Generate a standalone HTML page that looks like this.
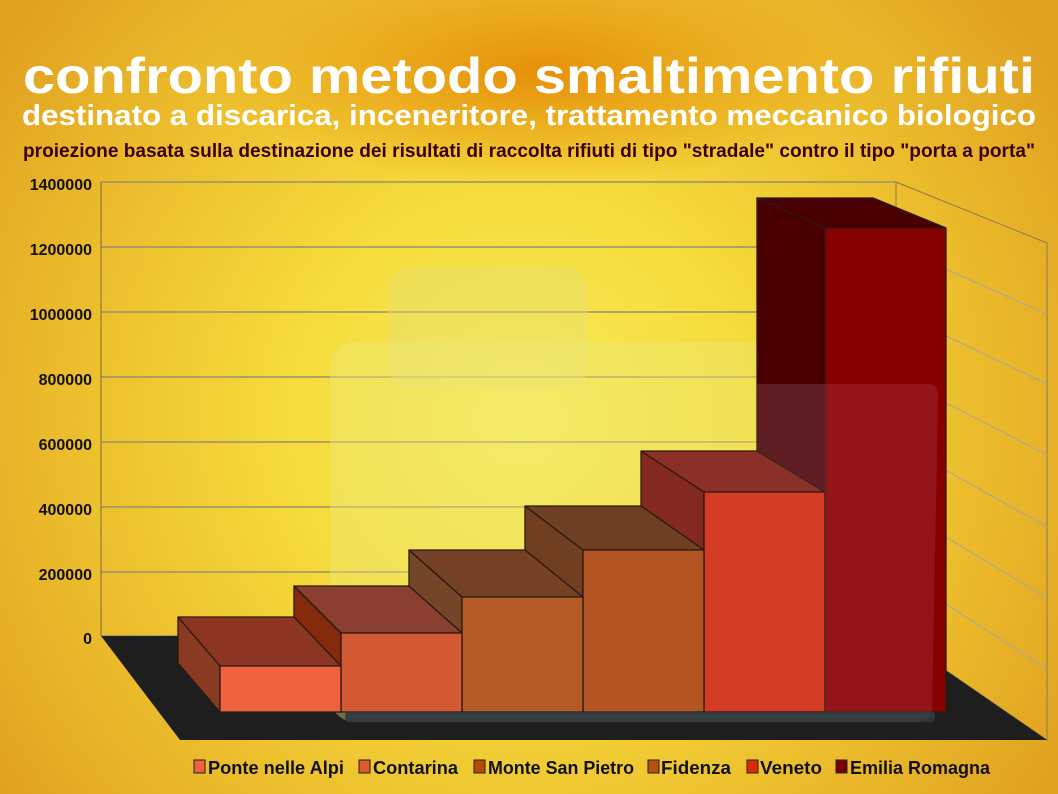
<!DOCTYPE html>
<html><head><meta charset="utf-8"><style>
html,body{margin:0;padding:0;width:1058px;height:794px;overflow:hidden}
svg{display:block}
text{font-family:"Liberation Sans",sans-serif;font-weight:bold}
</style></head><body>
<svg width="1058" height="794" viewBox="0 0 1058 794" xmlns="http://www.w3.org/2000/svg">
<defs>
<radialGradient id="bg" cx="520" cy="420" r="650" gradientUnits="userSpaceOnUse">
<stop offset="0" stop-color="#f7ec5a"/>
<stop offset="0.35" stop-color="#f6dc3c"/>
<stop offset="0.75" stop-color="#eab82a"/>
<stop offset="1" stop-color="#e0a020"/>
</radialGradient>
<radialGradient id="top" cx="540" cy="90" r="330" gradientTransform="translate(0,60) scale(1,0.35) translate(0,-60)" gradientUnits="userSpaceOnUse">
<stop offset="0" stop-color="#e6900a" stop-opacity="1"/>
<stop offset="1" stop-color="#e6900a" stop-opacity="0"/>
</radialGradient>
</defs>
<rect width="1058" height="794" fill="url(#bg)"/>
<rect width="1058" height="200" fill="url(#top)"/>

<text x="529" y="93" font-size="50" fill="#fff" text-anchor="middle" textLength="1012" lengthAdjust="spacingAndGlyphs">confronto metodo smaltimento rifiuti</text>
<text x="529" y="125" font-size="29" fill="#fff" text-anchor="middle" textLength="1014" lengthAdjust="spacingAndGlyphs">destinato a discarica, inceneritore, trattamento meccanico biologico</text>
<text x="529" y="157" font-size="19" fill="#3a0010" text-anchor="middle" textLength="1012" lengthAdjust="spacingAndGlyphs">proiezione basata sulla destinazione dei risultati di raccolta rifiuti di tipo "stradale" contro il tipo "porta a porta"</text>

<polygon points="896,182 1047,243 1047,740 896,636" fill="none" stroke="#8a7a50" stroke-width="1"/>
<g stroke="#b0a890" stroke-width="1.2">
<line x1="896" y1="247" x2="1047" y2="314"/>
<line x1="896" y1="312" x2="1047" y2="384"/>
<line x1="896" y1="377" x2="1047" y2="455"/>
<line x1="896" y1="442" x2="1047" y2="527"/>
<line x1="896" y1="507" x2="1047" y2="598"/>
<line x1="896" y1="572" x2="1047" y2="669"/>
</g>
<g stroke="#9a9070" stroke-width="1.5">
<line x1="101" y1="182" x2="896" y2="182"/>
<line x1="101" y1="247" x2="896" y2="247"/>
<line x1="101" y1="312" x2="896" y2="312"/>
<line x1="101" y1="377" x2="896" y2="377"/>
<line x1="101" y1="442" x2="896" y2="442"/>
<line x1="101" y1="507" x2="896" y2="507"/>
<line x1="101" y1="572" x2="896" y2="572"/>
<line x1="101" y1="636" x2="896" y2="636"/>
</g>
<line x1="101" y1="182" x2="101" y2="636" stroke="#7a6a40" stroke-width="1"/>
<polygon points="101,636 896,636 1047,740 180,740" fill="#1e1e1e"/>

<g font-size="16" fill="#111" text-anchor="end">
<text x="92" y="190">1400000</text>
<text x="92" y="255">1200000</text>
<text x="92" y="320">1000000</text>
<text x="92" y="385">800000</text>
<text x="92" y="450">600000</text>
<text x="92" y="515">400000</text>
<text x="92" y="580">200000</text>
<text x="92" y="644">0</text>
</g>

<rect x="388" y="268" width="200" height="120" rx="22" fill="#e6e070" opacity="0.45"/>
<rect x="330" y="342" width="610" height="380" rx="25" fill="#eee87a" opacity="0.4"/>

<g stroke="#2a1a10" stroke-width="1.3" stroke-linejoin="round">
<polygon points="757,198 825,228 825,712 757,682" fill="#4a0000"/>
<polygon points="757,198 873,198 946,228 825,228" fill="#4a0000"/>
<rect x="825" y="228" width="121" height="484" fill="#860000"/>
<polygon points="641,451 704,492 704,712 641,671" fill="#83291f"/>
<polygon points="641,451 757,451 825,492 704,492" fill="#8a3028"/>
<rect x="704" y="492" width="121" height="220" fill="#d43b24"/>
<polygon points="525,506 583,550 583,712 525,668" fill="#703f22"/>
<polygon points="525,506 641,506 704,550 583,550" fill="#6e3f22"/>
<rect x="583" y="550" width="121" height="162" fill="#b25522"/>
<polygon points="409,550 462,597 462,712 409,665" fill="#754528"/>
<polygon points="409,550 525,550 583,597 462,597" fill="#744126"/>
<rect x="462" y="597" width="121" height="115" fill="#b45a25"/>
<polygon points="294,586 341,633 341,712 294,665" fill="#852a0c"/>
<polygon points="294,586 409,586 462,633 341,633" fill="#8a3f30"/>
<rect x="341" y="633" width="121" height="79" fill="#d35935"/>
<polygon points="178,617 220,666 220,712 178,663" fill="#883a22"/>
<polygon points="178,617 294,617 341,666 220,666" fill="#8b3522"/>
<rect x="220" y="666" width="121" height="46" fill="#f0623f"/>
</g>
<polygon points="757,384 825,384 825,492 757,451" fill="#8a6070" opacity="0.3"/>
<path d="M825 384 L928 384 Q940 384 938 400 L932 712 L825 712 Z" fill="#b04050" opacity="0.3"/>
<rect x="345" y="712" width="590" height="10" rx="4" fill="#2e3740" opacity="0.9"/>

<g stroke="#222" stroke-width="1">
<rect x="194" y="760" width="11" height="13" fill="#f0623f"/>
<rect x="359" y="760" width="11" height="13" fill="#e0582e"/>
<rect x="474" y="760" width="11" height="13" fill="#b84a06"/>
<rect x="648" y="760" width="11" height="13" fill="#b85010"/>
<rect x="747" y="760" width="11" height="13" fill="#dd2a0a"/>
<rect x="836" y="760" width="11" height="13" fill="#7a0000"/>
</g>
<g font-size="18" fill="#111">
<text x="208" y="774" textLength="136" lengthAdjust="spacingAndGlyphs">Ponte nelle Alpi</text>
<text x="373" y="774" textLength="85" lengthAdjust="spacingAndGlyphs">Contarina</text>
<text x="488" y="774" textLength="146" lengthAdjust="spacingAndGlyphs">Monte San Pietro</text>
<text x="661" y="774" textLength="70" lengthAdjust="spacingAndGlyphs">Fidenza</text>
<text x="760" y="774" textLength="62" lengthAdjust="spacingAndGlyphs">Veneto</text>
<text x="850" y="774" textLength="140" lengthAdjust="spacingAndGlyphs">Emilia Romagna</text>
</g>
</svg>
</body></html>
